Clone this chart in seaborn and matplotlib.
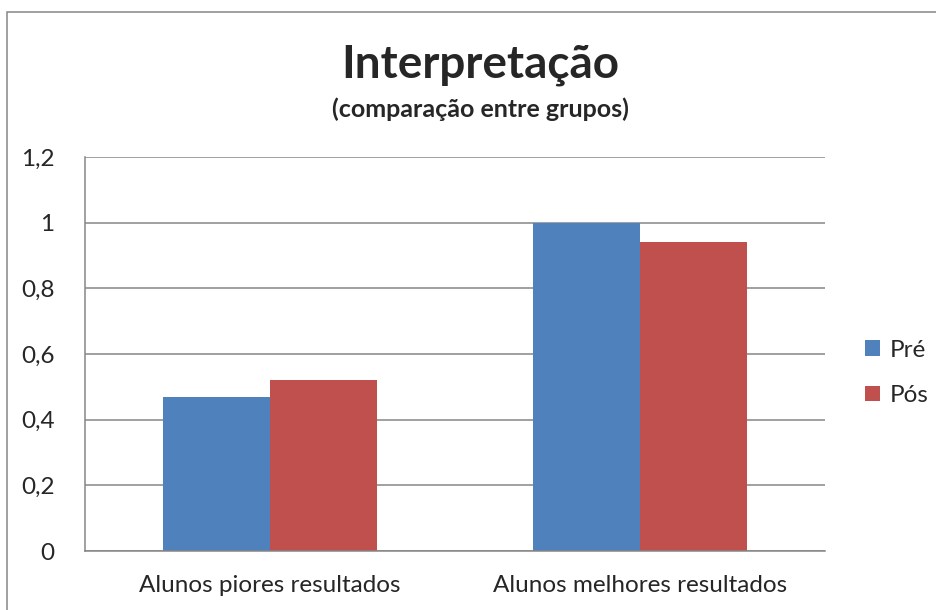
import matplotlib
matplotlib.use("Agg")
import matplotlib.pyplot as plt
import seaborn as sns
import pandas as pd
from matplotlib.patches import Rectangle

categories = ["Alunos piores resultados", "Alunos melhores resultados"]
series_names = ["Pré", "Pós"]
pre_values = [0.47, 1.0]
pos_values = [0.52, 0.94]
y_ticks = [0, 0.2, 0.4, 0.6, 0.8, 1.0, 1.2]
y_tick_labels = ["0", "0,2", "0,4", "0,6", "0,8", "1", "1,2"]

df = pd.DataFrame({
    "categoria": categories * 2,
    "serie": [series_names[0]] * 2 + [series_names[1]] * 2,
    "valor": pre_values + pos_values,
})

sns.set_theme(style="white")
plt.rcParams["font.family"] = ["Lato", "DejaVu Sans"]

fig = plt.figure(figsize=(9.37, 6.10), dpi=100)
ax = fig.add_axes([85/937, 1 - 551/610, (825-85)/937, (551-157)/610])

sns.barplot(data=df, x="categoria", y="valor", hue="serie",
            palette=["#4F81BD", "#C0504D"], width=0.576, ax=ax,
            saturation=1, legend=True, errorbar=None, linewidth=0)

ax.set_ylim(0, 1.2)
ax.set_yticks(y_ticks)
ax.set_yticklabels(y_tick_labels, fontsize=17.5)
ax.tick_params(axis="x", labelsize=17.5, pad=17, length=0)
ax.tick_params(axis="y", pad=22, length=0)
ax.set_xlabel("")
ax.set_ylabel("")
ax.yaxis.grid(True, color="#868686", linewidth=1.1)
ax.set_axisbelow(True)
for s in ["top", "right"]:
    ax.spines[s].set_visible(False)
for s in ["left", "bottom"]:
    ax.spines[s].set_color("#868686")
    ax.spines[s].set_linewidth(1.1)

leg = ax.legend(loc="center left", bbox_to_anchor=(1.025, 0.452), frameon=False,
                fontsize=17.5, handlelength=0.6, handleheight=0.6,
                handletextpad=0.4, labelspacing=1.0)

fig.text(480/937, 1 - 65/610, "Interpretação", ha="center", va="center",
         fontsize=33, fontweight="bold")
fig.text(480/937, 1 - 109/610, "(comparação entre grupos)", ha="center",
         va="center", fontsize=18, fontweight="bold")

fig.patches.append(Rectangle((7/937, -0.1), 1.2, 1 - 12/610 + 0.1,
                             transform=fig.transFigure, fill=False,
                             edgecolor="#868686", linewidth=1.1))

fig.savefig("out.png", dpi=100)
